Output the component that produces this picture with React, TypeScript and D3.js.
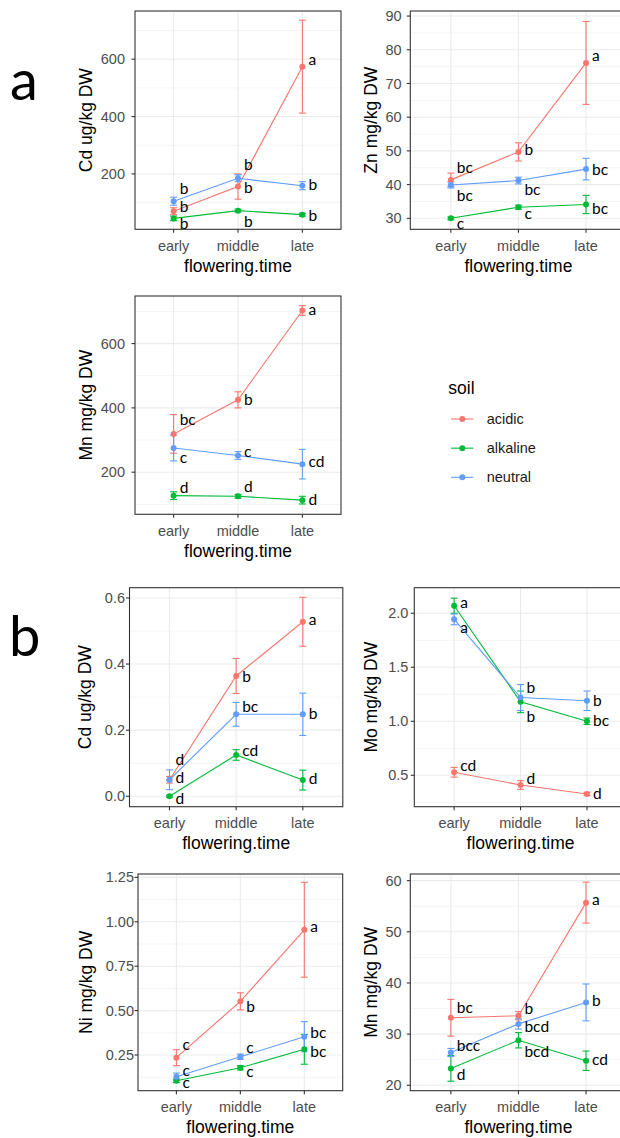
import React from "react";
import * as d3 from "d3";

// categories
const times = ["early", "middle", "late"];
const soils = ["acidic", "alkaline", "neutral"];
const soilColors = ["#F8766D", "#00BA38", "#619CFF"];

// a) Cd ug/kg DW  (rows: acidic, alkaline, neutral)
const aCdMean = [[70, 156, 574], [45, 72, 58], [105, 185, 159]];
const aCdErr = [[12, 44, 162], [8, 5, 5], [14, 12, 14]];
const aCdLetter = [["b", "b", "a"], ["b", "b", "b"], ["b", "b", "b"]];
const aCdLabelY = [[86, 152, 600], [29, 34, 57], [149, 234, 165]];
const aCdTicks = [200, 400, 600];
const aCdTickLabels = ["200", "400", "600"];

// a) Zn mg/kg DW
const aZnMean = [[41.4, 49.7, 76.1], [30.0, 33.3, 34.1], [39.9, 41.2, 44.6]];
const aZnErr = [[2.0, 2.7, 12.3], [0.4, 0.6, 2.7], [0.9, 1.0, 3.2]];
const aZnLetter = [["bc", "b", "a"], ["c", "c", "bc"], ["bc", "bc", "bc"]];
const aZnLabelY = [[45.0, 50.3, 78.4], [28.5, 31.5, 32.8], [36.9, 38.7, 44.6]];
const aZnTicks = [30, 40, 50, 60, 70, 80, 90];
const aZnTickLabels = ["30", "40", "50", "60", "70", "80", "90"];

// a) Mn mg/kg DW
const aMnMean = [[319, 425, 703], [127, 125, 113], [275, 252, 225]];
const aMnErr = [[60, 25, 15], [12, 6, 12], [40, 12, 46]];
const aMnLetter = [["bc", "b", "a"], ["d", "d", "d"], ["c", "c", "cd"]];
const aMnLabelY = [[365, 427, 705], [153, 155, 114], [247, 264, 235]];
const aMnTicks = [200, 400, 600];
const aMnTickLabels = ["200", "400", "600"];

// b) Cd ug/kg DW
const bCdMean = [[0.05, 0.364, 0.528], [0.0, 0.125, 0.049], [0.05, 0.248, 0.248]];
const bCdErr = [[0.01, 0.053, 0.074], [0.003, 0.016, 0.03], [0.03, 0.036, 0.064]];
const bCdLetter = [["d", "b", "a"], ["d", "cd", "d"], ["d", "bc", "b"]];
const bCdLabelY = [[0.112, 0.362, 0.536], [-0.006, 0.138, 0.054], [0.057, 0.271, 0.251]];
const bCdTicks = [0, 0.2, 0.4, 0.6];
const bCdTickLabels = ["0.0", "0.2", "0.4", "0.6"];

// b) Mo mg/kg DW
const bMoMean = [[0.528, 0.41, 0.327], [2.07, 1.18, 1.0], [1.944, 1.22, 1.19]];
const bMoErr = [[0.045, 0.04, 0.015], [0.07, 0.1, 0.03], [0.05, 0.12, 0.09]];
const bMoLetter = [["cd", "d", "d"], ["a", "b", "bc"], ["a", "b", "b"]];
const bMoLabelY = [[0.589, 0.472, 0.333], [2.1, 1.049, 1.006], [1.87, 1.311, 1.197]];
const bMoTicks = [0.5, 1.0, 1.5, 2.0];
const bMoTickLabels = ["0.5", "1.0", "1.5", "2.0"];

// b) Ni mg/kg DW
const bNiMean = [[0.235, 0.552, 0.955], [0.105, 0.178, 0.282], [0.128, 0.24, 0.353]];
const bNiErr = [[0.045, 0.048, 0.267], [0.01, 0.012, 0.084], [0.02, 0.015, 0.085]];
const bNiLetter = [["c", "b", "a"], ["c", "c", "bc"], ["c", "c", "bc"]];
const bNiLabelY = [[0.31, 0.522, 0.976], [0.094, 0.16, 0.269], [0.162, 0.293, 0.376]];
const bNiTicks = [0.25, 0.5, 0.75, 1.0, 1.25];
const bNiTickLabels = ["0.25", "0.50", "0.75", "1.00", "1.25"];

// b) Mn mg/kg DW
const bMnMean = [[33.2, 33.6, 55.7], [23.3, 28.8, 24.8], [26.4, 32.0, 36.2]];
const bMnErr = [[3.6, 0.8, 4.0], [2.5, 1.5, 1.9], [0.8, 1.0, 3.6]];
const bMnLetter = [["bc", "b", "a"], ["d", "bcd", "cd"], ["bcc", "bcd", "b"]];
const bMnLabelY = [[35.2, 35.1, 56.4], [22.2, 26.6, 25.1], [27.7, 31.5, 36.5]];
const bMnTicks = [20, 30, 40, 50, 60];
const bMnTickLabels = ["20", "30", "40", "50", "60"];

// panel layout
const panels = [
  { title: "Cd ug/kg DW", mean: aCdMean, err: aCdErr, letter: aCdLetter, labelY: aCdLabelY, ticks: aCdTicks, tickLabels: aCdTickLabels,
    domain: [7, 768], box: { left: 135, right: 341, top: 11, bottom: 229.3 }, tickX: 125, titleX: 86 },
  { title: "Zn mg/kg DW", mean: aZnMean, err: aZnErr, letter: aZnLetter, labelY: aZnLabelY, ticks: aZnTicks, tickLabels: aZnTickLabels,
    domain: [26.74, 91.5], box: { left: 410.3, right: 626.6, top: 11, bottom: 229.3 }, tickX: 401.7, titleX: 370.7 },
  { title: "Mn mg/kg DW", mean: aMnMean, err: aMnErr, letter: aMnLetter, labelY: aMnLabelY, ticks: aMnTicks, tickLabels: aMnTickLabels,
    domain: [69, 748], box: { left: 135, right: 341, top: 296, bottom: 514.3 }, tickX: 125, titleX: 86 },
  { title: "Cd ug/kg DW", mean: bCdMean, err: bCdErr, letter: bCdLetter, labelY: bCdLabelY, ticks: bCdTicks, tickLabels: bCdTickLabels,
    domain: [-0.0315, 0.631], box: { left: 129.5, right: 342.8, top: 587.7, bottom: 806.7 }, tickX: 125, titleX: 85 },
  { title: "Mo mg/kg DW", mean: bMoMean, err: bMoErr, letter: bMoLetter, labelY: bMoLabelY, ticks: bMoTicks, tickLabels: bMoTickLabels,
    domain: [0.209, 2.237], box: { left: 414.3, right: 626.8, top: 587.7, bottom: 806.7 }, tickX: 408.3, titleX: 370.7 },
  { title: "Ni mg/kg DW", mean: bNiMean, err: bNiErr, letter: bNiLetter, labelY: bNiLabelY, ticks: bNiTicks, tickLabels: bNiTickLabels,
    domain: [0.049, 1.269], box: { left: 138, right: 342.7, top: 874, bottom: 1090.7 }, tickX: 134, titleX: 86 },
  { title: "Mn mg/kg DW", mean: bMnMean, err: bMnErr, letter: bMnLetter, labelY: bMnLabelY, ticks: bMnTicks, tickLabels: bMnTickLabels,
    domain: [18.94, 61.3], box: { left: 410.3, right: 626.6, top: 874, bottom: 1090.7 }, tickX: 401.7, titleX: 370.7 },
];

const labelFont = "Lato, 'Open Sans', sans-serif";

function Panel({ p }: { p: any }) {
  const b = p.box;
  const x = d3.scalePoint<string>().domain(times).range([b.left, b.right]).padding(0.6);
  const y = d3.scaleLinear().domain(p.domain).range([b.bottom, b.top]);
  const step = p.ticks[1] - p.ticks[0];
  const minors = [p.ticks[0] - step / 2, ...p.ticks.map((t: number) => t + step / 2)].filter(
    (v) => v > p.domain[0] && v < p.domain[1]
  );
  const line = d3
    .line<number>()
    .x((_, i) => x(times[i]) as number)
    .y((d) => y(d));
  const cx = (b.left + b.right) / 2;
  const cy = (b.top + b.bottom) / 2;

  return (
    <g>
      <rect x={b.left} y={b.top} width={b.right - b.left} height={b.bottom - b.top} fill="#fff" />
      {minors.map((v: number) => (
        <line key={"mn" + v} x1={b.left} x2={b.right} y1={y(v)} y2={y(v)} stroke="#EBEBEB" strokeWidth={0.55} />
      ))}
      {p.ticks.map((v: number) => (
        <line key={"mj" + v} x1={b.left} x2={b.right} y1={y(v)} y2={y(v)} stroke="#EBEBEB" strokeWidth={1.1} />
      ))}
      {times.map((t) => (
        <line key={"vx" + t} x1={x(t)} x2={x(t)} y1={b.top} y2={b.bottom} stroke="#EBEBEB" strokeWidth={1.1} />
      ))}

      {/* error bars */}
      {soils.map((s, si) =>
        times.map((t, ti) => {
          const xx = x(t) as number;
          const m = p.mean[si][ti];
          const e = p.err[si][ti];
          return (
            <g key={"eb" + s + t} stroke={soilColors[si]} strokeWidth={1.1}>
              <line x1={xx} x2={xx} y1={y(m - e)} y2={y(m + e)} />
              <line x1={xx - 3.5} x2={xx + 3.5} y1={y(m - e)} y2={y(m - e)} />
              <line x1={xx - 3.5} x2={xx + 3.5} y1={y(m + e)} y2={y(m + e)} />
            </g>
          );
        })
      )}
      {/* lines */}
      {soils.map((s, si) => (
        <path key={"ln" + s} d={line(p.mean[si]) as string} fill="none" stroke={soilColors[si]} strokeWidth={1.1} />
      ))}
      {/* points */}
      {soils.map((s, si) =>
        times.map((t, ti) => (
          <circle key={"pt" + s + t} cx={x(t)} cy={y(p.mean[si][ti])} r={3} fill={soilColors[si]} />
        ))
      )}
      {/* letters */}
      {soils.map((s, si) =>
        times.map((t, ti) => (
          <text
            key={"lb" + s + t}
            x={(x(t) as number) + 6}
            y={y(p.labelY[si][ti])}
            dy="0.36em"
            fontFamily={labelFont}
            fontSize={15.5}
            fill="#000"
          >
            {p.letter[si][ti]}
          </text>
        ))
      )}

      <rect x={b.left} y={b.top} width={b.right - b.left} height={b.bottom - b.top} fill="none" stroke="#333333" strokeWidth={1.1} />

      {/* y axis */}
      {p.ticks.map((v: number, i: number) => (
        <g key={"yt" + v}>
          <line x1={b.left - 3.5} x2={b.left} y1={y(v)} y2={y(v)} stroke="#333333" strokeWidth={1.1} />
          <text x={p.tickX} y={y(v)} dy="0.35em" textAnchor="end" fontSize={14.5} fill="#4D4D4D">
            {p.tickLabels[i]}
          </text>
        </g>
      ))}
      {/* x axis */}
      {times.map((t) => (
        <g key={"xt" + t}>
          <line x1={x(t)} x2={x(t)} y1={b.bottom} y2={b.bottom + 3.5} stroke="#333333" strokeWidth={1.1} />
          <text x={x(t)} y={b.bottom + 21.5} textAnchor="middle" fontSize={14.5} fill="#4D4D4D">
            {t}
          </text>
        </g>
      ))}
      <text x={cx} y={b.bottom + 42.5} textAnchor="middle" fontSize={17.5} fill="#000">
        flowering.time
      </text>
      <text
        transform={`translate(${p.titleX},${cy}) rotate(-90)`}
        dy="0.35em"
        textAnchor="middle"
        fontSize={17.5}
        fill="#000"
      >
        {p.title}
      </text>
    </g>
  );
}

function Legend() {
  const rowY = d3.scalePoint<string>().domain(soils).range([419, 477.3]);
  return (
    <g>
      <text x={448.3} y={394.3} fontSize={17.5} fill="#000">
        soil
      </text>
      {soils.map((s, i) => (
        <g key={s}>
          <line x1={451} x2={473.3} y1={rowY(s)} y2={rowY(s)} stroke={soilColors[i]} strokeWidth={1.1} />
          <circle cx={462.3} cy={rowY(s)} r={3} fill={soilColors[i]} />
          <text x={486.7} y={rowY(s)} dy="0.35em" fontSize={14.5} fill="#1A1A1A">
            {s}
          </text>
        </g>
      ))}
    </g>
  );
}

export default function App() {
  return (
    <svg
      width={620}
      height={1138}
      style={{ position: "absolute", left: 0, top: 0, background: "#fff" }}
      fontFamily="'Liberation Sans', Arial, sans-serif"
    >
      <rect width={620} height={1138} fill="#fff" />
      <text x={10} y={99.5} fontFamily={labelFont} fontSize={56} fill="#000">
        a
      </text>
      <text x={9} y={656} fontFamily={labelFont} fontSize={56} fill="#000">
        b
      </text>
      {panels.map((p, i) => (
        <Panel key={i} p={p} />
      ))}
      <Legend />
    </svg>
  );
}
